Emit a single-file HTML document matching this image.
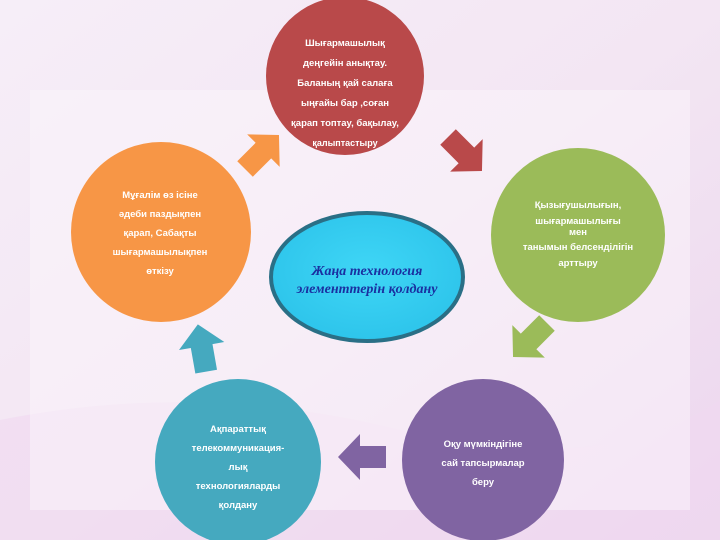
<!DOCTYPE html>
<html><head><meta charset="utf-8"><style>
body{margin:0;width:720px;height:540px;overflow:hidden;font-family:"Liberation Sans","DejaVu Sans",sans-serif;}
</style></head><body>
<svg width="720" height="540" xmlns="http://www.w3.org/2000/svg">
<defs>
<linearGradient id="bg" x1="0" y1="0" x2="1" y2="1">
<stop offset="0" stop-color="#f6eef8"/><stop offset="0.5" stop-color="#f3e6f3"/><stop offset="1" stop-color="#ecd6ee"/>
</linearGradient>
<radialGradient id="el" cx="0.5" cy="0.45" r="0.6">
<stop offset="0" stop-color="#3fd6f6"/><stop offset="1" stop-color="#2cc3ea"/>
</radialGradient>
<g id="arr"><polygon points="-24,-11 2,-11 2,-23 24,0 2,23 2,11 -24,11"/></g>
</defs>
<rect width="720" height="540" fill="url(#bg)"/>
<path d="M0 420 Q200 380 400 430 T720 400 L720 540 L0 540Z" fill="#f0d8f0" opacity="0.6"/>
<rect x="30" y="90" width="660" height="420" fill="#fbf5fb" opacity="0.5"/>

<circle cx="345" cy="76" r="79" fill="#b9494a"/>
<circle cx="161" cy="232" r="90" fill="#f79646"/>
<circle cx="578" cy="235" r="87" fill="#9bbb59"/>
<circle cx="238" cy="462" r="83" fill="#45a9bf"/>
<circle cx="483" cy="460" r="81" fill="#8064a2"/>

<use href="#arr" fill="#f79646" transform="translate(262,152) rotate(-45)"/>
<use href="#arr" fill="#b9494a" transform="translate(465,154) rotate(45)"/>
<use href="#arr" fill="#9bbb59" transform="translate(530,340) rotate(135)"/>
<use href="#arr" fill="#8064a2" transform="translate(362,457) rotate(180)"/>
<use href="#arr" fill="#45a9bf" transform="translate(202,348) rotate(-100)"/>

<ellipse cx="367" cy="277" rx="96" ry="64" fill="url(#el)" stroke="#2a6f86" stroke-width="4"/>
<g font-family="Liberation Serif,serif" font-style="italic" font-weight="bold" font-size="14" fill="#1a2fa0" text-anchor="middle">
<text x="367" y="275">Жаңа технология</text>
<text x="367" y="293">элементтерін қолдану</text>
</g>

<g font-size="9.5" font-weight="bold" fill="#fff" text-anchor="middle">
<text x="345" y="46">Шығармашылық</text>
<text x="345" y="66">деңгейін анықтау.</text>
<text x="345" y="86">Баланың қай салаға</text>
<text x="345" y="106">ыңғайы бар ,соған</text>
<text x="345" y="126">қарап топтау, бақылау,</text>
<text x="345" y="146" font-size="9">қалыптастыру</text>
<text x="160" y="198">Мұғалім өз ісіне</text>
<text x="160" y="217">әдеби паздықпен</text>
<text x="160" y="236">қарап, Сабақты</text>
<text x="160" y="255">шығармашылықпен</text>
<text x="160" y="274">өткізу</text>
<text x="578" y="208">Қызығушылығын,</text>
<text x="578" y="224">шығармашылығы</text>
<text x="578" y="235">мен</text>
<text x="578" y="250">танымын белсенділігін</text>
<text x="578" y="266">арттыру</text>
<text x="238" y="432">Ақпараттық</text>
<text x="238" y="451">телекоммуникация-</text>
<text x="238" y="470">лық</text>
<text x="238" y="489">технологияларды</text>
<text x="238" y="508">қолдану</text>
<text x="483" y="447">Оқу мүмкіндігіне</text>
<text x="483" y="466">сай тапсырмалар</text>
<text x="483" y="485">беру</text>
</g>
</svg>
</body></html>
